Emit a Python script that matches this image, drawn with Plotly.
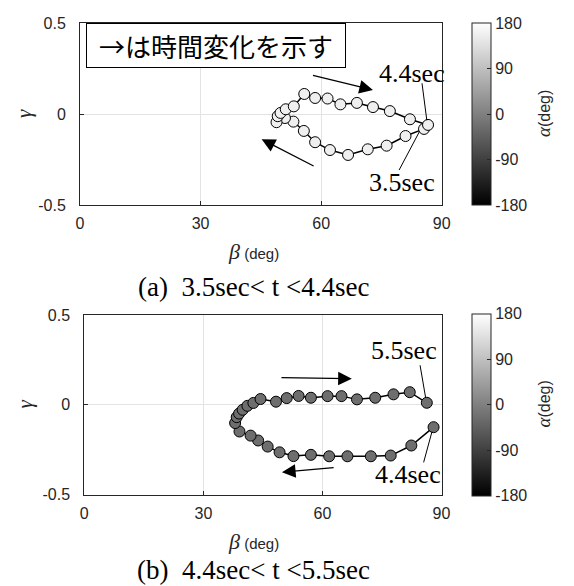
import plotly.graph_objects as go

# ---------------- data ----------------
# (a) 3.5sec < t < 4.4sec
beta_a = [85.6, 81.0, 76.3, 71.6, 66.7, 62.2, 58.5, 55.7, 53.1, 51.0, 48.9, 49.2,
          49.9, 51.2, 53.2, 55.8, 58.5, 61.6, 64.8, 68.9, 72.9, 77.1, 82.1, 86.6]
gamma_a = [-0.082, -0.121, -0.174, -0.194, -0.225, -0.198, -0.155, -0.093, -0.042,
           -0.022, -0.045, -0.012, 0.006, 0.026, 0.042, 0.110, 0.088, 0.085, 0.053,
           0.061, 0.038, 0.016, -0.029, -0.060]
alpha_a = [158, 158, 158, 158, 158, 158, 158, 158, 158, 158, 158, 158,
           158, 158, 158, 158, 158, 158, 158, 158, 158, 158, 158, 158]

# (b) 4.4sec < t < 5.5sec
beta_b = [88.0, 82.4, 77.2, 72.2, 66.3, 61.7, 57.1, 52.7, 49.2, 46.2, 43.8, 41.9,
          39.1, 38.0, 38.4, 39.0, 39.9, 41.1, 42.6, 44.4, 48.3, 51.0, 54.0, 57.1,
          61.3, 64.8, 68.7, 73.3, 77.9, 82.0, 86.3]
gamma_b = [-0.125, -0.227, -0.283, -0.287, -0.287, -0.287, -0.279, -0.286, -0.265,
           -0.233, -0.199, -0.172, -0.149, -0.102, -0.069, -0.049, -0.028, -0.006,
           0.010, 0.032, 0.017, 0.037, 0.049, 0.039, 0.048, 0.048, 0.030, 0.039,
           0.058, 0.070, 0.011]
alpha_b = [-25, -25, -25, -25, -25, -25, -25, -25, -25, -25, -25, -25, -25, -25, -25, -25,
           -25, -25, -25, -25, -25, -25, -25, -25, -25, -25, -25, -25, -25, -25, -25]

x_ticks = [0, 30, 60, 90]
y_ticks = [-0.5, 0, 0.5]
y_ticktext = ["-0.5", "0", "0.5"]
c_ticks = [-180, -90, 0, 90, 180]
c_ticktext = ["-180", "-90", "0", "90", "180"]
captions = ["(a)  3.5sec< t <4.4sec", "(b)  4.4sec< t <5.5sec"]
note_text = "→は時間変化を示す"

W, H = 574, 586
TXT = "#262626"
SERIF = "Liberation Serif"
SANS = "Liberation Sans"

fig = go.Figure()

fig.add_trace(go.Scatter(
    x=beta_a, y=gamma_a, mode="lines+markers", xaxis="x", yaxis="y",
    line=dict(color="black", width=1.5),
    marker=dict(size=11, color=alpha_a, coloraxis="coloraxis",
                line=dict(color="black", width=1)),
    showlegend=False, cliponaxis=False))
fig.add_trace(go.Scatter(
    x=beta_b, y=gamma_b, mode="lines+markers", xaxis="x2", yaxis="y2",
    line=dict(color="black", width=1.5),
    marker=dict(size=11, color=alpha_b, coloraxis="coloraxis2",
                line=dict(color="black", width=1)),
    showlegend=False, cliponaxis=False))

axis_common = dict(showline=True, mirror=True, linecolor=TXT, linewidth=1,
                   ticks="inside", ticklen=4, tickcolor=TXT, automargin=False,
                   showgrid=True, gridcolor="#e3e3e3", zeroline=False,
                   tickfont=dict(family=SANS, size=16, color=TXT))

def cbar(ymid):
    return dict(x=472 / W, xanchor="left", xpad=0, ypad=0, thickness=19,
                len=182 / H, lenmode="fraction", y=ymid, yanchor="middle",
                tickvals=c_ticks, ticktext=c_ticktext, ticks="inside", ticklen=4,
                tickcolor=TXT, outlinecolor=TXT, outlinewidth=1,
                tickfont=dict(family=SANS, size=16, color=TXT))

fig.update_layout(
    width=W, height=H, margin=dict(l=0, r=0, t=0, b=0, autoexpand=False),
    paper_bgcolor="white", plot_bgcolor="white",
    xaxis=dict(domain=[80 / W, 441.7 / W], range=[0, 90], tickvals=x_ticks,
               anchor="y", ticklabelstandoff=4, **axis_common),
    yaxis=dict(domain=[1 - 205 / H, 1 - 23 / H], range=[-0.5, 0.5], tickvals=y_ticks,
               ticktext=y_ticktext, anchor="x", ticklabelstandoff=10,
               **axis_common),
    xaxis2=dict(domain=[84.3 / W, 441.5 / W], range=[0, 90], tickvals=x_ticks,
                anchor="y2", ticklabelstandoff=4, **axis_common),
    yaxis2=dict(domain=[1 - 494.5 / H, 1 - 315 / H], range=[-0.5, 0.5], tickvals=y_ticks,
                ticktext=y_ticktext, anchor="x2", ticklabelstandoff=10,
                **axis_common),
    coloraxis=dict(cmin=-180, cmax=180, colorscale=[[0, "black"], [1, "white"]],
                   colorbar=cbar(1 - 114 / H)),
    coloraxis2=dict(cmin=-180, cmax=180, colorscale=[[0, "black"], [1, "white"]],
                    colorbar=cbar(1 - 404.8 / H)),
)

ann = []
# time-direction arrows
arrows = [
    ("x", "y", 57.6, 0.214, 72.9, 0.132),
    ("x", "y", 58.5, -0.29, 45.2, -0.139),
    ("x2", "y2", 49.3, 0.151, 67.4, 0.145),
    ("x2", "y2", 63.2, -0.349, 49.8, -0.376),
]
for xr, yr, tx, ty, hx, hy in arrows:
    ann.append(dict(xref=xr, yref=yr, axref=xr, ayref=yr, x=hx, y=hy, ax=tx, ay=ty,
                    text="", showarrow=True, arrowhead=2, arrowsize=2.1,
                    arrowwidth=1.3, arrowcolor="black", standoff=0, startstandoff=0))

# time labels
labels = [
    ("x", "y", 82.5, 0.225, "4.4sec"),
    ("x", "y", 80.2, -0.376, "3.5sec"),
    ("x2", "y2", 80.6, 0.303, "5.5sec"),
    ("x2", "y2", 81.5, -0.389, "4.4sec"),
]
for xr, yr, x, y, t in labels:
    ann.append(dict(xref=xr, yref=yr, x=x, y=y, text=t, showarrow=False,
                    font=dict(family=SERIF, size=26, color="black"),
                    xanchor="center", yanchor="middle"))

# leader lines
leaders = [
    ("x", "y", 85.1, 0.169, 86.3, -0.035),
    ("x", "y", 79.4, -0.308, 84.5, -0.095),
    ("x2", "y2", 84.6, 0.220, 86.0, 0.040),
    ("x2", "y2", 85.5, -0.321, 87.6, -0.150),
]
shapes = []
for xr, yr, x0, y0, x1, y1 in leaders:
    shapes.append(dict(type="line", xref=xr, yref=yr, x0=x0, y0=y0, x1=x1, y1=y1,
                       line=dict(color="black", width=1)))

# note box
ann.append(dict(xref="paper", yref="paper", x=216.3 / W, y=1 - 45.8 / H,
                text=note_text, showarrow=False, xanchor="center", yanchor="middle",
                font=dict(family="Noto Sans CJK JP", size=26, color="black"),
                bgcolor="white", bordercolor="black", borderwidth=1, borderpad=1,
                width=256, height=41))

# axis labels
for yc in (114, 404.5):
    ann.append(dict(xref="paper", yref="paper", x=24 / W, y=1 - yc / H,
                    text="<i>γ</i>", showarrow=False, textangle=-90,
                    font=dict(family=SERIF, size=21, color=TXT),
                    xanchor="center", yanchor="middle"))
    ann.append(dict(xref="paper", yref="paper", x=543 / W, y=1 - yc / H,
                    text="<span style='font-family:Liberation Serif;font-size:19px'><i>α</i></span>(deg)",
                    showarrow=False, textangle=-90,
                    font=dict(family=SANS, size=16, color=TXT),
                    xanchor="center", yanchor="middle"))
for yc in (251, 541):
    ann.append(dict(xref="paper", yref="paper", x=254 / W, y=1 - yc / H,
                    text="<span style='font-family:Liberation Serif;font-size:22px'><i>β</i></span> <span style='font-size:15px'>(deg)</span>",
                    showarrow=False, font=dict(family=SANS, size=15, color=TXT),
                    xanchor="center", yanchor="middle"))

# captions
for yc, t in zip((287, 570), captions):
    ann.append(dict(xref="paper", yref="paper", x=253 / W, y=1 - yc / H,
                    text=t, showarrow=False,
                    font=dict(family=SERIF, size=27, color="black"),
                    xanchor="center", yanchor="middle"))

fig.update_layout(annotations=ann, shapes=shapes)
fig.write_html("out.html", config={"displayModeBar": False},
               post_script="document.body.style.margin='0';document.body.style.padding='0';")
